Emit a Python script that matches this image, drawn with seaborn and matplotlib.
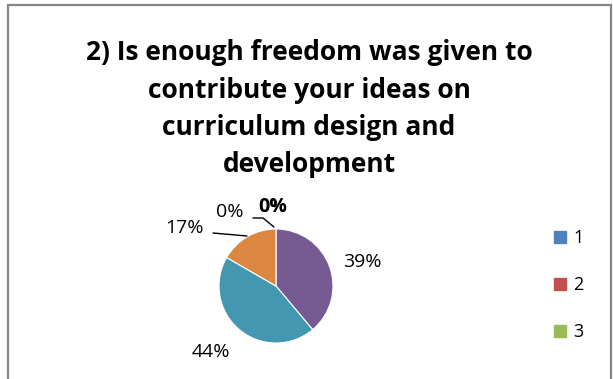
import numpy as np
import matplotlib
matplotlib.use("Agg")
import matplotlib.pyplot as plt
from matplotlib.patches import Rectangle
import seaborn as sns

# chart data
categories = ["1", "2", "3", "4", "5", "6"]
counts = [0, 0, 0, 7, 8, 3]
pct_labels = ["0%", "0%", "0%", "39%", "44%", "17%"]
colors = ["#4F81BD", "#C0504D", "#9BBB59", "#765B93", "#4497B0", "#DC8741"]
title = "2) Is enough freedom was given to\ncontribute your ideas on\ncurriculum design and\ndevelopment"

sns.set_style("white")
plt.rcParams["font.family"] = ["Open Sans", "DejaVu Sans"]
plt.rcParams["text.color"] = "black"

W, H = 613, 379
R = 57.0  # pie radius in px
cx, cy = 276, 379 - 286

fig = plt.figure(figsize=(W / 100, H / 100), dpi=100)
ax = fig.add_axes([0, 0, 1, 1])

wedges, _ = ax.pie(counts, colors=colors, startangle=90, counterclock=False,
                   radius=1, center=(0, 0), wedgeprops=dict(linewidth=0.8, edgecolor="white"))

ax.set_xlim(-cx / R, (W - cx) / R)
ax.set_ylim(-cy / R, (H - cy) / R)
ax.set_aspect("auto")
ax.axis("off")

# chart border
ax.add_patch(Rectangle(((8 - cx) / R, (-30 - cy) / R), (W - 10) / R, (H - 5 + 30) / R,
                       fill=False, edgecolor="#868686", linewidth=1.6, clip_on=False))

fig.text(309 / W, 1 - 39 / H, title, ha="center", va="top", fontsize=19,
         fontweight="bold", linespacing=1.5, color="black")

# label positions (px offset from centre)
offs = {
    0: (-3, 79, "bold"),
    1: (-3, 79, "normal"),
    2: (-46, 74, "normal"),
    3: (86, 24, "normal"),
    4: (-65, -66, "normal"),
    5: (-92, 58, "normal"),
}
for i, (dx, dy, fw) in offs.items():
    ax.text(dx / R, dy / R, pct_labels[i], ha="center", va="center", fontsize=14,
            fontweight=fw, color="black")

# leader lines
ax.plot(np.array([-63, -29]) / R, np.array([53, 50]) / R, color="black", lw=1)
ax.plot(np.array([-23, -13, -2]) / R, np.array([68, 68, 59]) / R, color="black", lw=1)

handles = [plt.Rectangle((0, 0), 1, 1, color=c) for c in colors[:3]]
fig.legend(handles, categories[:3], loc="upper left", bbox_to_anchor=(538 / W, 1 - 213 / H),
           frameon=False, fontsize=13, handlelength=0.65, handleheight=0.65,
           labelspacing=1.6, handletextpad=0.4, labelcolor="black")

fig.savefig("out.png", dpi=100)
